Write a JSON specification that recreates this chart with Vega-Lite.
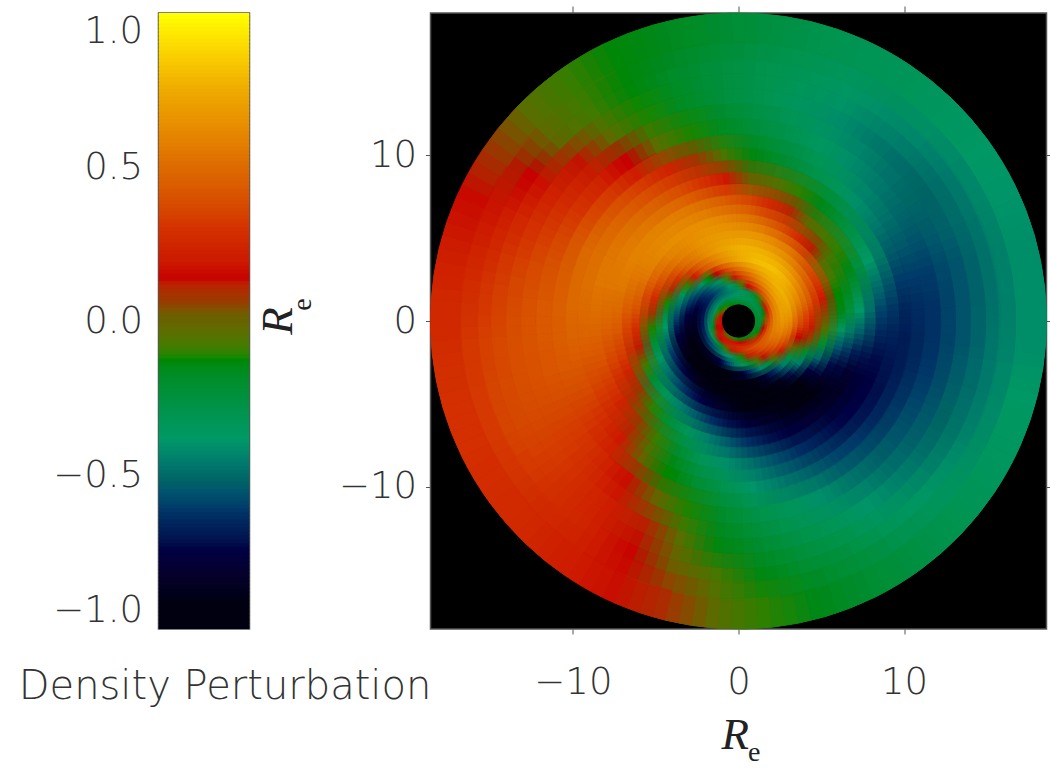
{"$schema":"https://vega.github.io/schema/vega-lite/v6.json","padding":{"left":16.5,"top":4,"right":0,"bottom":0},"background":"white","bounds":"flush","spacing":181,"datasets":{"rings":[{"k":1,"r1":1.03,"s1":1.165,"r2":1.075,"s2":1.255},{"k":2,"r1":1.15,"s1":1.39,"r2":1.27,"s2":1.51},{"k":3,"r1":1.39,"s1":1.63,"r2":1.51,"s2":1.75},{"k":4,"r1":1.61,"s1":1.92,"r2":1.77,"s2":2.08},{"k":5,"r1":1.9,"s1":2.32,"r2":2.1,"s2":2.52},{"k":6,"r1":2.3,"s1":2.78,"r2":2.54,"s2":3.02},{"k":7,"r1":2.77,"s1":3.31,"r2":3.03,"s2":3.57},{"k":8,"r1":3.27,"s1":3.94,"r2":3.61,"s2":4.28},{"k":9,"r1":3.93,"s1":4.65,"r2":4.29,"s2":5.01},{"k":10,"r1":4.6,"s1":5.51,"r2":5.06,"s2":5.97},{"k":11,"r1":5.48,"s1":6.51,"r2":6.0,"s2":7.03},{"k":12,"r1":6.47,"s1":7.68,"r2":7.07,"s2":8.28},{"k":13,"r1":7.63,"s1":9.02,"r2":8.33,"s2":9.72},{"k":14,"r1":8.99,"s1":10.5,"r2":9.75,"s2":11.26},{"k":15,"r1":10.43,"s1":12.24,"r2":11.33,"s2":13.14},{"k":16,"r1":12.24,"s1":14.05,"r2":13.14,"s2":14.95},{"k":17,"r1":14.05,"s1":15.86,"r2":14.95,"s2":16.76},{"k":18,"r1":15.74,"s1":18.6,"r2":16.88,"s2":18.6}],"sectors":[{"a":0,"a1":-3.75,"b1":6.25,"a2":-1.25,"b2":8.75,"a3":1.25,"b3":11.25,"a4":3.75,"b4":13.75},{"a":10,"a1":6.25,"b1":16.25,"a2":8.75,"b2":18.75,"a3":11.25,"b3":21.25,"a4":13.75,"b4":23.75},{"a":20,"a1":16.25,"b1":26.25,"a2":18.75,"b2":28.75,"a3":21.25,"b3":31.25,"a4":23.75,"b4":33.75},{"a":30,"a1":26.25,"b1":36.25,"a2":28.75,"b2":38.75,"a3":31.25,"b3":41.25,"a4":33.75,"b4":43.75},{"a":40,"a1":36.25,"b1":46.25,"a2":38.75,"b2":48.75,"a3":41.25,"b3":51.25,"a4":43.75,"b4":53.75},{"a":50,"a1":46.25,"b1":56.25,"a2":48.75,"b2":58.75,"a3":51.25,"b3":61.25,"a4":53.75,"b4":63.75},{"a":60,"a1":56.25,"b1":66.25,"a2":58.75,"b2":68.75,"a3":61.25,"b3":71.25,"a4":63.75,"b4":73.75},{"a":70,"a1":66.25,"b1":76.25,"a2":68.75,"b2":78.75,"a3":71.25,"b3":81.25,"a4":73.75,"b4":83.75},{"a":80,"a1":76.25,"b1":86.25,"a2":78.75,"b2":88.75,"a3":81.25,"b3":91.25,"a4":83.75,"b4":93.75},{"a":90,"a1":86.25,"b1":96.25,"a2":88.75,"b2":98.75,"a3":91.25,"b3":101.25,"a4":93.75,"b4":103.75},{"a":100,"a1":96.25,"b1":106.25,"a2":98.75,"b2":108.75,"a3":101.25,"b3":111.25,"a4":103.75,"b4":113.75},{"a":110,"a1":106.25,"b1":116.25,"a2":108.75,"b2":118.75,"a3":111.25,"b3":121.25,"a4":113.75,"b4":123.75},{"a":120,"a1":116.25,"b1":126.25,"a2":118.75,"b2":128.75,"a3":121.25,"b3":131.25,"a4":123.75,"b4":133.75},{"a":130,"a1":126.25,"b1":136.25,"a2":128.75,"b2":138.75,"a3":131.25,"b3":141.25,"a4":133.75,"b4":143.75},{"a":140,"a1":136.25,"b1":146.25,"a2":138.75,"b2":148.75,"a3":141.25,"b3":151.25,"a4":143.75,"b4":153.75},{"a":150,"a1":146.25,"b1":156.25,"a2":148.75,"b2":158.75,"a3":151.25,"b3":161.25,"a4":153.75,"b4":163.75},{"a":160,"a1":156.25,"b1":166.25,"a2":158.75,"b2":168.75,"a3":161.25,"b3":171.25,"a4":163.75,"b4":173.75},{"a":170,"a1":166.25,"b1":176.25,"a2":168.75,"b2":178.75,"a3":171.25,"b3":181.25,"a4":173.75,"b4":183.75},{"a":180,"a1":176.25,"b1":186.25,"a2":178.75,"b2":188.75,"a3":181.25,"b3":191.25,"a4":183.75,"b4":193.75},{"a":190,"a1":186.25,"b1":196.25,"a2":188.75,"b2":198.75,"a3":191.25,"b3":201.25,"a4":193.75,"b4":203.75},{"a":200,"a1":196.25,"b1":206.25,"a2":198.75,"b2":208.75,"a3":201.25,"b3":211.25,"a4":203.75,"b4":213.75},{"a":210,"a1":206.25,"b1":216.25,"a2":208.75,"b2":218.75,"a3":211.25,"b3":221.25,"a4":213.75,"b4":223.75},{"a":220,"a1":216.25,"b1":226.25,"a2":218.75,"b2":228.75,"a3":221.25,"b3":231.25,"a4":223.75,"b4":233.75},{"a":230,"a1":226.25,"b1":236.25,"a2":228.75,"b2":238.75,"a3":231.25,"b3":241.25,"a4":233.75,"b4":243.75},{"a":240,"a1":236.25,"b1":246.25,"a2":238.75,"b2":248.75,"a3":241.25,"b3":251.25,"a4":243.75,"b4":253.75},{"a":250,"a1":246.25,"b1":256.25,"a2":248.75,"b2":258.75,"a3":251.25,"b3":261.25,"a4":253.75,"b4":263.75},{"a":260,"a1":256.25,"b1":266.25,"a2":258.75,"b2":268.75,"a3":261.25,"b3":271.25,"a4":263.75,"b4":273.75},{"a":270,"a1":266.25,"b1":276.25,"a2":268.75,"b2":278.75,"a3":271.25,"b3":281.25,"a4":273.75,"b4":283.75},{"a":280,"a1":276.25,"b1":286.25,"a2":278.75,"b2":288.75,"a3":281.25,"b3":291.25,"a4":283.75,"b4":293.75},{"a":290,"a1":286.25,"b1":296.25,"a2":288.75,"b2":298.75,"a3":291.25,"b3":301.25,"a4":293.75,"b4":303.75},{"a":300,"a1":296.25,"b1":306.25,"a2":298.75,"b2":308.75,"a3":301.25,"b3":311.25,"a4":303.75,"b4":313.75},{"a":310,"a1":306.25,"b1":316.25,"a2":308.75,"b2":318.75,"a3":311.25,"b3":321.25,"a4":313.75,"b4":323.75},{"a":320,"a1":316.25,"b1":326.25,"a2":318.75,"b2":328.75,"a3":321.25,"b3":331.25,"a4":323.75,"b4":333.75},{"a":330,"a1":326.25,"b1":336.25,"a2":328.75,"b2":338.75,"a3":331.25,"b3":341.25,"a4":333.75,"b4":343.75},{"a":340,"a1":336.25,"b1":346.25,"a2":338.75,"b2":348.75,"a3":341.25,"b3":351.25,"a4":343.75,"b4":353.75},{"a":350,"a1":346.25,"b1":356.25,"a2":348.75,"b2":358.75,"a3":351.25,"b3":361.25,"a4":353.75,"b4":363.75}],"cells":[
{"a":0,"k":1,"v":-0.21},{"a":10,"k":1,"v":-0.22},{"a":20,"k":1,"v":-0.22},{"a":30,"k":1,"v":-0.22},{"a":40,"k":1,"v":-0.22},{"a":50,"k":1,"v":-0.22},{"a":60,"k":1,"v":-0.21},{"a":70,"k":1,"v":-0.2},{"a":80,"k":1,"v":-0.19},{"a":90,"k":1,"v":-0.18},{"a":100,"k":1,"v":-0.16},{"a":110,"k":1,"v":-0.14},{"a":120,"k":1,"v":-0.11},{"a":130,"k":1,"v":-0.08},{"a":140,"k":1,"v":-0.03},{"a":150,"k":1,"v":0.06},{"a":160,"k":1,"v":0.13},{"a":170,"k":1,"v":0.17},{"a":180,"k":1,"v":0.18},{"a":190,"k":1,"v":0.17},{"a":200,"k":1,"v":0.15},{"a":210,"k":1,"v":0.1},{"a":220,"k":1,"v":0},{"a":230,"k":1,"v":-0.04},{"a":240,"k":1,"v":-0.07},{"a":250,"k":1,"v":-0.09},{"a":260,"k":1,"v":-0.11},{"a":270,"k":1,"v":-0.13},{"a":280,"k":1,"v":-0.14},{"a":290,"k":1,"v":-0.15},{"a":300,"k":1,"v":-0.16},{"a":310,"k":1,"v":-0.18},{"a":320,"k":1,"v":-0.18},{"a":330,"k":1,"v":-0.19},{"a":340,"k":1,"v":-0.2},{"a":350,"k":1,"v":-0.21},
{"a":0,"k":2,"v":-0.24},{"a":10,"k":2,"v":-0.26},{"a":20,"k":2,"v":-0.28},{"a":30,"k":2,"v":-0.29},{"a":40,"k":2,"v":-0.29},{"a":50,"k":2,"v":-0.3},{"a":60,"k":2,"v":-0.3},{"a":70,"k":2,"v":-0.29},{"a":80,"k":2,"v":-0.29},{"a":90,"k":2,"v":-0.27},{"a":100,"k":2,"v":-0.26},{"a":110,"k":2,"v":-0.23},{"a":120,"k":2,"v":-0.2},{"a":130,"k":2,"v":-0.18},{"a":140,"k":2,"v":-0.14},{"a":150,"k":2,"v":-0.09},{"a":160,"k":2,"v":0},{"a":170,"k":2,"v":0.07},{"a":180,"k":2,"v":0.11},{"a":190,"k":2,"v":0.14},{"a":200,"k":2,"v":0.17},{"a":210,"k":2,"v":0.19},{"a":220,"k":2,"v":0.2},{"a":230,"k":2,"v":0.2},{"a":240,"k":2,"v":0.2},{"a":250,"k":2,"v":0.19},{"a":260,"k":2,"v":0.18},{"a":270,"k":2,"v":0.16},{"a":280,"k":2,"v":0.13},{"a":290,"k":2,"v":0.1},{"a":300,"k":2,"v":0.04},{"a":310,"k":2,"v":-0.05},{"a":320,"k":2,"v":-0.11},{"a":330,"k":2,"v":-0.15},{"a":340,"k":2,"v":-0.19},{"a":350,"k":2,"v":-0.21},
{"a":0,"k":3,"v":-0.05},{"a":10,"k":3,"v":-0.13},{"a":20,"k":3,"v":-0.18},{"a":30,"k":3,"v":-0.22},{"a":40,"k":3,"v":-0.26},{"a":50,"k":3,"v":-0.29},{"a":60,"k":3,"v":-0.32},{"a":70,"k":3,"v":-0.34},{"a":80,"k":3,"v":-0.36},{"a":90,"k":3,"v":-0.38},{"a":100,"k":3,"v":-0.39},{"a":110,"k":3,"v":-0.4},{"a":120,"k":3,"v":-0.4},{"a":130,"k":3,"v":-0.4},{"a":140,"k":3,"v":-0.39},{"a":150,"k":3,"v":-0.37},{"a":160,"k":3,"v":-0.33},{"a":170,"k":3,"v":-0.28},{"a":180,"k":3,"v":-0.22},{"a":190,"k":3,"v":-0.14},{"a":200,"k":3,"v":0},{"a":210,"k":3,"v":0.11},{"a":220,"k":3,"v":0.16},{"a":230,"k":3,"v":0.21},{"a":240,"k":3,"v":0.24},{"a":250,"k":3,"v":0.27},{"a":260,"k":3,"v":0.29},{"a":270,"k":3,"v":0.3},{"a":280,"k":3,"v":0.3},{"a":290,"k":3,"v":0.29},{"a":300,"k":3,"v":0.28},{"a":310,"k":3,"v":0.26},{"a":320,"k":3,"v":0.23},{"a":330,"k":3,"v":0.19},{"a":340,"k":3,"v":0.14},{"a":350,"k":3,"v":0.05},
{"a":0,"k":4,"v":0.35},{"a":10,"k":4,"v":0.28},{"a":20,"k":4,"v":0.21},{"a":30,"k":4,"v":0.09},{"a":40,"k":4,"v":-0.08},{"a":50,"k":4,"v":-0.19},{"a":60,"k":4,"v":-0.26},{"a":70,"k":4,"v":-0.32},{"a":80,"k":4,"v":-0.37},{"a":90,"k":4,"v":-0.41},{"a":100,"k":4,"v":-0.44},{"a":110,"k":4,"v":-0.47},{"a":120,"k":4,"v":-0.49},{"a":130,"k":4,"v":-0.5},{"a":140,"k":4,"v":-0.5},{"a":150,"k":4,"v":-0.5},{"a":160,"k":4,"v":-0.49},{"a":170,"k":4,"v":-0.47},{"a":180,"k":4,"v":-0.44},{"a":190,"k":4,"v":-0.41},{"a":200,"k":4,"v":-0.37},{"a":210,"k":4,"v":-0.32},{"a":220,"k":4,"v":-0.26},{"a":230,"k":4,"v":-0.19},{"a":240,"k":4,"v":-0.08},{"a":250,"k":4,"v":0.09},{"a":260,"k":4,"v":0.21},{"a":270,"k":4,"v":0.28},{"a":280,"k":4,"v":0.35},{"a":290,"k":4,"v":0.39},{"a":300,"k":4,"v":0.42},{"a":310,"k":4,"v":0.44},{"a":320,"k":4,"v":0.45},{"a":330,"k":4,"v":0.44},{"a":340,"k":4,"v":0.42},{"a":350,"k":4,"v":0.39},
{"a":0,"k":5,"v":0.6},{"a":10,"k":5,"v":0.59},{"a":20,"k":5,"v":0.56},{"a":30,"k":5,"v":0.52},{"a":40,"k":5,"v":0.46},{"a":50,"k":5,"v":0.38},{"a":60,"k":5,"v":0.29},{"a":70,"k":5,"v":0.16},{"a":80,"k":5,"v":-0.06},{"a":90,"k":5,"v":-0.27},{"a":100,"k":5,"v":-0.39},{"a":110,"k":5,"v":-0.48},{"a":120,"k":5,"v":-0.55},{"a":130,"k":5,"v":-0.61},{"a":140,"k":5,"v":-0.66},{"a":150,"k":5,"v":-0.69},{"a":160,"k":5,"v":-0.7},{"a":170,"k":5,"v":-0.7},{"a":180,"k":5,"v":-0.69},{"a":190,"k":5,"v":-0.67},{"a":200,"k":5,"v":-0.64},{"a":210,"k":5,"v":-0.6},{"a":220,"k":5,"v":-0.56},{"a":230,"k":5,"v":-0.5},{"a":240,"k":5,"v":-0.43},{"a":250,"k":5,"v":-0.36},{"a":260,"k":5,"v":-0.26},{"a":270,"k":5,"v":-0.11},{"a":280,"k":5,"v":0.11},{"a":290,"k":5,"v":0.27},{"a":300,"k":5,"v":0.37},{"a":310,"k":5,"v":0.44},{"a":320,"k":5,"v":0.5},{"a":330,"k":5,"v":0.55},{"a":340,"k":5,"v":0.58},{"a":350,"k":5,"v":0.6},
{"a":0,"k":6,"v":0.7},{"a":10,"k":6,"v":0.72},{"a":20,"k":6,"v":0.72},{"a":30,"k":6,"v":0.71},{"a":40,"k":6,"v":0.67},{"a":50,"k":6,"v":0.62},{"a":60,"k":6,"v":0.55},{"a":70,"k":6,"v":0.45},{"a":80,"k":6,"v":0.35},{"a":90,"k":6,"v":0.19},{"a":100,"k":6,"v":-0.08},{"a":110,"k":6,"v":-0.32},{"a":120,"k":6,"v":-0.44},{"a":130,"k":6,"v":-0.55},{"a":140,"k":6,"v":-0.63},{"a":150,"k":6,"v":-0.71},{"a":160,"k":6,"v":-0.77},{"a":170,"k":6,"v":-0.82},{"a":180,"k":6,"v":-0.85},{"a":190,"k":6,"v":-0.87},{"a":200,"k":6,"v":-0.88},{"a":210,"k":6,"v":-0.87},{"a":220,"k":6,"v":-0.85},{"a":230,"k":6,"v":-0.81},{"a":240,"k":6,"v":-0.74},{"a":250,"k":6,"v":-0.6},{"a":260,"k":6,"v":-0.46},{"a":270,"k":6,"v":-0.35},{"a":280,"k":6,"v":-0.2},{"a":290,"k":6,"v":-0.06},{"a":300,"k":6,"v":0.13},{"a":310,"k":6,"v":0.32},{"a":320,"k":6,"v":0.44},{"a":330,"k":6,"v":0.53},{"a":340,"k":6,"v":0.6},{"a":350,"k":6,"v":0.66},
{"a":0,"k":7,"v":0.67},{"a":10,"k":7,"v":0.73},{"a":20,"k":7,"v":0.76},{"a":30,"k":7,"v":0.78},{"a":40,"k":7,"v":0.78},{"a":50,"k":7,"v":0.76},{"a":60,"k":7,"v":0.72},{"a":70,"k":7,"v":0.65},{"a":80,"k":7,"v":0.57},{"a":90,"k":7,"v":0.47},{"a":100,"k":7,"v":0.34},{"a":110,"k":7,"v":0.14},{"a":120,"k":7,"v":-0.12},{"a":130,"k":7,"v":-0.35},{"a":140,"k":7,"v":-0.49},{"a":150,"k":7,"v":-0.58},{"a":160,"k":7,"v":-0.67},{"a":170,"k":7,"v":-0.76},{"a":180,"k":7,"v":-0.82},{"a":190,"k":7,"v":-0.87},{"a":200,"k":7,"v":-0.92},{"a":210,"k":7,"v":-0.95},{"a":220,"k":7,"v":-0.96},{"a":230,"k":7,"v":-0.97},{"a":240,"k":7,"v":-0.96},{"a":250,"k":7,"v":-0.93},{"a":260,"k":7,"v":-0.86},{"a":270,"k":7,"v":-0.76},{"a":280,"k":7,"v":-0.6},{"a":290,"k":7,"v":-0.42},{"a":300,"k":7,"v":-0.25},{"a":310,"k":7,"v":-0.02},{"a":320,"k":7,"v":0.21},{"a":330,"k":7,"v":0.37},{"a":340,"k":7,"v":0.5},{"a":350,"k":7,"v":0.59},
{"a":0,"k":8,"v":0.46},{"a":10,"k":8,"v":0.57},{"a":20,"k":8,"v":0.66},{"a":30,"k":8,"v":0.74},{"a":40,"k":8,"v":0.79},{"a":50,"k":8,"v":0.82},{"a":60,"k":8,"v":0.82},{"a":70,"k":8,"v":0.81},{"a":80,"k":8,"v":0.77},{"a":90,"k":8,"v":0.71},{"a":100,"k":8,"v":0.63},{"a":110,"k":8,"v":0.52},{"a":120,"k":8,"v":0.41},{"a":130,"k":8,"v":0.22},{"a":140,"k":8,"v":-0.09},{"a":150,"k":8,"v":-0.32},{"a":160,"k":8,"v":-0.47},{"a":170,"k":8,"v":-0.57},{"a":180,"k":8,"v":-0.67},{"a":190,"k":8,"v":-0.76},{"a":200,"k":8,"v":-0.83},{"a":210,"k":8,"v":-0.89},{"a":220,"k":8,"v":-0.94},{"a":230,"k":8,"v":-0.97},{"a":240,"k":8,"v":-0.99},{"a":250,"k":8,"v":-1},{"a":260,"k":8,"v":-1},{"a":270,"k":8,"v":-0.97},{"a":280,"k":8,"v":-0.9},{"a":290,"k":8,"v":-0.8},{"a":300,"k":8,"v":-0.65},{"a":310,"k":8,"v":-0.45},{"a":320,"k":8,"v":-0.25},{"a":330,"k":8,"v":0},{"a":340,"k":8,"v":0.15},{"a":350,"k":8,"v":0.35},
{"a":0,"k":9,"v":0.3},{"a":10,"k":9,"v":0.42},{"a":20,"k":9,"v":0.5},{"a":30,"k":9,"v":0.59},{"a":40,"k":9,"v":0.67},{"a":50,"k":9,"v":0.73},{"a":60,"k":9,"v":0.76},{"a":70,"k":9,"v":0.78},{"a":80,"k":9,"v":0.78},{"a":90,"k":9,"v":0.76},{"a":100,"k":9,"v":0.71},{"a":110,"k":9,"v":0.65},{"a":120,"k":9,"v":0.55},{"a":130,"k":9,"v":0.46},{"a":140,"k":9,"v":0.31},{"a":150,"k":9,"v":0.09},{"a":160,"k":9,"v":-0.11},{"a":170,"k":9,"v":-0.25},{"a":180,"k":9,"v":-0.38},{"a":190,"k":9,"v":-0.49},{"a":200,"k":9,"v":-0.6},{"a":210,"k":9,"v":-0.69},{"a":220,"k":9,"v":-0.77},{"a":230,"k":9,"v":-0.85},{"a":240,"k":9,"v":-0.9},{"a":250,"k":9,"v":-0.96},{"a":260,"k":9,"v":-0.99},{"a":270,"k":9,"v":-1},{"a":280,"k":9,"v":-1},{"a":290,"k":9,"v":-0.96},{"a":300,"k":9,"v":-0.88},{"a":310,"k":9,"v":-0.7},{"a":320,"k":9,"v":-0.45},{"a":330,"k":9,"v":-0.2},{"a":340,"k":9,"v":0.05},{"a":350,"k":9,"v":0.2},
{"a":0,"k":10,"v":0.05},{"a":10,"k":10,"v":0.2},{"a":20,"k":10,"v":0.32},{"a":30,"k":10,"v":0.39},{"a":40,"k":10,"v":0.48},{"a":50,"k":10,"v":0.57},{"a":60,"k":10,"v":0.62},{"a":70,"k":10,"v":0.67},{"a":80,"k":10,"v":0.69},{"a":90,"k":10,"v":0.7},{"a":100,"k":10,"v":0.69},{"a":110,"k":10,"v":0.67},{"a":120,"k":10,"v":0.62},{"a":130,"k":10,"v":0.57},{"a":140,"k":10,"v":0.49},{"a":150,"k":10,"v":0.4},{"a":160,"k":10,"v":0.28},{"a":170,"k":10,"v":0.08},{"a":180,"k":10,"v":-0.11},{"a":190,"k":10,"v":-0.23},{"a":200,"k":10,"v":-0.35},{"a":210,"k":10,"v":-0.47},{"a":220,"k":10,"v":-0.56},{"a":230,"k":10,"v":-0.66},{"a":240,"k":10,"v":-0.74},{"a":250,"k":10,"v":-0.81},{"a":260,"k":10,"v":-0.87},{"a":270,"k":10,"v":-0.92},{"a":280,"k":10,"v":-0.96},{"a":290,"k":10,"v":-0.97},{"a":300,"k":10,"v":-0.98},{"a":310,"k":10,"v":-0.92},{"a":320,"k":10,"v":-0.75},{"a":330,"k":10,"v":-0.5},{"a":340,"k":10,"v":-0.2},{"a":350,"k":10,"v":-0.05},
{"a":0,"k":11,"v":-0.15},{"a":10,"k":11,"v":-0.12},{"a":20,"k":11,"v":-0.08},{"a":30,"k":11,"v":-0.04},{"a":40,"k":11,"v":0.12},{"a":50,"k":11,"v":0.29},{"a":60,"k":11,"v":0.4},{"a":70,"k":11,"v":0.48},{"a":80,"k":11,"v":0.55},{"a":90,"k":11,"v":0.6},{"a":100,"k":11,"v":0.63},{"a":110,"k":11,"v":0.65},{"a":120,"k":11,"v":0.65},{"a":130,"k":11,"v":0.63},{"a":140,"k":11,"v":0.6},{"a":150,"k":11,"v":0.55},{"a":160,"k":11,"v":0.48},{"a":170,"k":11,"v":0.4},{"a":180,"k":11,"v":0.29},{"a":190,"k":11,"v":0.12},{"a":200,"k":11,"v":-0.07},{"a":210,"k":11,"v":-0.22},{"a":220,"k":11,"v":-0.33},{"a":230,"k":11,"v":-0.44},{"a":240,"k":11,"v":-0.53},{"a":250,"k":11,"v":-0.63},{"a":260,"k":11,"v":-0.71},{"a":270,"k":11,"v":-0.78},{"a":280,"k":11,"v":-0.83},{"a":290,"k":11,"v":-0.88},{"a":300,"k":11,"v":-0.91},{"a":310,"k":11,"v":-0.92},{"a":320,"k":11,"v":-0.85},{"a":330,"k":11,"v":-0.72},{"a":340,"k":11,"v":-0.55},{"a":350,"k":11,"v":-0.35},
{"a":0,"k":12,"v":-0.38},{"a":10,"k":12,"v":-0.25},{"a":20,"k":12,"v":-0.15},{"a":30,"k":12,"v":-0.1},{"a":40,"k":12,"v":-0.07},{"a":50,"k":12,"v":-0.03},{"a":60,"k":12,"v":0.11},{"a":70,"k":12,"v":0.27},{"a":80,"k":12,"v":0.37},{"a":90,"k":12,"v":0.44},{"a":100,"k":12,"v":0.51},{"a":110,"k":12,"v":0.56},{"a":120,"k":12,"v":0.59},{"a":130,"k":12,"v":0.6},{"a":140,"k":12,"v":0.6},{"a":150,"k":12,"v":0.58},{"a":160,"k":12,"v":0.55},{"a":170,"k":12,"v":0.5},{"a":180,"k":12,"v":0.43},{"a":190,"k":12,"v":0.35},{"a":200,"k":12,"v":0.24},{"a":210,"k":12,"v":0.07},{"a":220,"k":12,"v":-0.1},{"a":230,"k":12,"v":-0.23},{"a":240,"k":12,"v":-0.34},{"a":250,"k":12,"v":-0.44},{"a":260,"k":12,"v":-0.54},{"a":270,"k":12,"v":-0.63},{"a":280,"k":12,"v":-0.71},{"a":290,"k":12,"v":-0.76},{"a":300,"k":12,"v":-0.79},{"a":310,"k":12,"v":-0.83},{"a":320,"k":12,"v":-0.85},{"a":330,"k":12,"v":-0.8},{"a":340,"k":12,"v":-0.68},{"a":350,"k":12,"v":-0.52},
{"a":0,"k":13,"v":-0.58},{"a":10,"k":13,"v":-0.48},{"a":20,"k":13,"v":-0.38},{"a":30,"k":13,"v":-0.3},{"a":40,"k":13,"v":-0.22},{"a":50,"k":13,"v":-0.15},{"a":60,"k":13,"v":-0.1},{"a":70,"k":13,"v":-0.05},{"a":80,"k":13,"v":0},{"a":90,"k":13,"v":0.2},{"a":100,"k":13,"v":0.31},{"a":110,"k":13,"v":0.4},{"a":120,"k":13,"v":0.46},{"a":130,"k":13,"v":0.51},{"a":140,"k":13,"v":0.54},{"a":150,"k":13,"v":0.55},{"a":160,"k":13,"v":0.55},{"a":170,"k":13,"v":0.52},{"a":180,"k":13,"v":0.48},{"a":190,"k":13,"v":0.42},{"a":200,"k":13,"v":0.34},{"a":210,"k":13,"v":0.24},{"a":220,"k":13,"v":0.07},{"a":230,"k":13,"v":-0.09},{"a":240,"k":13,"v":-0.2},{"a":250,"k":13,"v":-0.32},{"a":260,"k":13,"v":-0.4},{"a":270,"k":13,"v":-0.48},{"a":280,"k":13,"v":-0.56},{"a":290,"k":13,"v":-0.63},{"a":300,"k":13,"v":-0.68},{"a":310,"k":13,"v":-0.73},{"a":320,"k":13,"v":-0.74},{"a":330,"k":13,"v":-0.75},{"a":340,"k":13,"v":-0.72},{"a":350,"k":13,"v":-0.65},
{"a":0,"k":14,"v":-0.65},{"a":10,"k":14,"v":-0.6},{"a":20,"k":14,"v":-0.53},{"a":30,"k":14,"v":-0.46},{"a":40,"k":14,"v":-0.4},{"a":50,"k":14,"v":-0.33},{"a":60,"k":14,"v":-0.27},{"a":70,"k":14,"v":-0.2},{"a":80,"k":14,"v":-0.14},{"a":90,"k":14,"v":-0.07},{"a":100,"k":14,"v":0.08},{"a":110,"k":14,"v":0.24},{"a":120,"k":14,"v":0.33},{"a":130,"k":14,"v":0.4},{"a":140,"k":14,"v":0.45},{"a":150,"k":14,"v":0.49},{"a":160,"k":14,"v":0.5},{"a":170,"k":14,"v":0.5},{"a":180,"k":14,"v":0.48},{"a":190,"k":14,"v":0.44},{"a":200,"k":14,"v":0.38},{"a":210,"k":14,"v":0.3},{"a":220,"k":14,"v":0.2},{"a":230,"k":14,"v":0},{"a":240,"k":14,"v":-0.12},{"a":250,"k":14,"v":-0.21},{"a":260,"k":14,"v":-0.3},{"a":270,"k":14,"v":-0.39},{"a":280,"k":14,"v":-0.46},{"a":290,"k":14,"v":-0.52},{"a":300,"k":14,"v":-0.58},{"a":310,"k":14,"v":-0.61},{"a":320,"k":14,"v":-0.65},{"a":330,"k":14,"v":-0.67},{"a":340,"k":14,"v":-0.68},{"a":350,"k":14,"v":-0.68},
{"a":0,"k":15,"v":-0.62},{"a":10,"k":15,"v":-0.6},{"a":20,"k":15,"v":-0.55},{"a":30,"k":15,"v":-0.5},{"a":40,"k":15,"v":-0.46},{"a":50,"k":15,"v":-0.41},{"a":60,"k":15,"v":-0.36},{"a":70,"k":15,"v":-0.3},{"a":80,"k":15,"v":-0.24},{"a":90,"k":15,"v":-0.17},{"a":100,"k":15,"v":-0.11},{"a":110,"k":15,"v":-0.04},{"a":120,"k":15,"v":0.14},{"a":130,"k":15,"v":0.24},{"a":140,"k":15,"v":0.31},{"a":150,"k":15,"v":0.37},{"a":160,"k":15,"v":0.41},{"a":170,"k":15,"v":0.43},{"a":180,"k":15,"v":0.43},{"a":190,"k":15,"v":0.42},{"a":200,"k":15,"v":0.38},{"a":210,"k":15,"v":0.33},{"a":220,"k":15,"v":0.26},{"a":230,"k":15,"v":0.17},{"a":240,"k":15,"v":0},{"a":250,"k":15,"v":-0.11},{"a":260,"k":15,"v":-0.19},{"a":270,"k":15,"v":-0.27},{"a":280,"k":15,"v":-0.34},{"a":290,"k":15,"v":-0.4},{"a":300,"k":15,"v":-0.47},{"a":310,"k":15,"v":-0.52},{"a":320,"k":15,"v":-0.55},{"a":330,"k":15,"v":-0.58},{"a":340,"k":15,"v":-0.61},{"a":350,"k":15,"v":-0.62},
{"a":0,"k":16,"v":-0.55},{"a":10,"k":16,"v":-0.55},{"a":20,"k":16,"v":-0.52},{"a":30,"k":16,"v":-0.51},{"a":40,"k":16,"v":-0.49},{"a":50,"k":16,"v":-0.45},{"a":60,"k":16,"v":-0.4},{"a":70,"k":16,"v":-0.35},{"a":80,"k":16,"v":-0.29},{"a":90,"k":16,"v":-0.24},{"a":100,"k":16,"v":-0.17},{"a":110,"k":16,"v":-0.11},{"a":120,"k":16,"v":-0.03},{"a":130,"k":16,"v":0.13},{"a":140,"k":16,"v":0.23},{"a":150,"k":16,"v":0.3},{"a":160,"k":16,"v":0.35},{"a":170,"k":16,"v":0.38},{"a":180,"k":16,"v":0.4},{"a":190,"k":16,"v":0.4},{"a":200,"k":16,"v":0.38},{"a":210,"k":16,"v":0.34},{"a":220,"k":16,"v":0.29},{"a":230,"k":16,"v":0.22},{"a":240,"k":16,"v":0.12},{"a":250,"k":16,"v":-0.04},{"a":260,"k":16,"v":-0.14},{"a":270,"k":16,"v":-0.2},{"a":280,"k":16,"v":-0.27},{"a":290,"k":16,"v":-0.32},{"a":300,"k":16,"v":-0.39},{"a":310,"k":16,"v":-0.44},{"a":320,"k":16,"v":-0.49},{"a":330,"k":16,"v":-0.51},{"a":340,"k":16,"v":-0.53},{"a":350,"k":16,"v":-0.55},
{"a":0,"k":17,"v":-0.48},{"a":10,"k":17,"v":-0.48},{"a":20,"k":17,"v":-0.47},{"a":30,"k":17,"v":-0.46},{"a":40,"k":17,"v":-0.43},{"a":50,"k":17,"v":-0.41},{"a":60,"k":17,"v":-0.37},{"a":70,"k":17,"v":-0.33},{"a":80,"k":17,"v":-0.29},{"a":90,"k":17,"v":-0.24},{"a":100,"k":17,"v":-0.19},{"a":110,"k":17,"v":-0.13},{"a":120,"k":17,"v":-0.08},{"a":130,"k":17,"v":-0.02},{"a":140,"k":17,"v":0.14},{"a":150,"k":17,"v":0.22},{"a":160,"k":17,"v":0.28},{"a":170,"k":17,"v":0.32},{"a":180,"k":17,"v":0.35},{"a":190,"k":17,"v":0.36},{"a":200,"k":17,"v":0.36},{"a":210,"k":17,"v":0.33},{"a":220,"k":17,"v":0.29},{"a":230,"k":17,"v":0.23},{"a":240,"k":17,"v":0.15},{"a":250,"k":17,"v":0.02},{"a":260,"k":17,"v":-0.07},{"a":270,"k":17,"v":-0.14},{"a":280,"k":17,"v":-0.21},{"a":290,"k":17,"v":-0.26},{"a":300,"k":17,"v":-0.32},{"a":310,"k":17,"v":-0.37},{"a":320,"k":17,"v":-0.4},{"a":330,"k":17,"v":-0.44},{"a":340,"k":17,"v":-0.46},{"a":350,"k":17,"v":-0.47},
{"a":0,"k":18,"v":-0.4},{"a":10,"k":18,"v":-0.4},{"a":20,"k":18,"v":-0.39},{"a":30,"k":18,"v":-0.38},{"a":40,"k":18,"v":-0.36},{"a":50,"k":18,"v":-0.34},{"a":60,"k":18,"v":-0.32},{"a":70,"k":18,"v":-0.29},{"a":80,"k":18,"v":-0.25},{"a":90,"k":18,"v":-0.2},{"a":100,"k":18,"v":-0.16},{"a":110,"k":18,"v":-0.13},{"a":120,"k":18,"v":-0.09},{"a":130,"k":18,"v":-0.04},{"a":140,"k":18,"v":0.07},{"a":150,"k":18,"v":0.16},{"a":160,"k":18,"v":0.21},{"a":170,"k":18,"v":0.26},{"a":180,"k":18,"v":0.29},{"a":190,"k":18,"v":0.3},{"a":200,"k":18,"v":0.3},{"a":210,"k":18,"v":0.29},{"a":220,"k":18,"v":0.26},{"a":230,"k":18,"v":0.22},{"a":240,"k":18,"v":0.17},{"a":250,"k":18,"v":0.1},{"a":260,"k":18,"v":-0.03},{"a":270,"k":18,"v":-0.1},{"a":280,"k":18,"v":-0.15},{"a":290,"k":18,"v":-0.2},{"a":300,"k":18,"v":-0.25},{"a":310,"k":18,"v":-0.3},{"a":320,"k":18,"v":-0.34},{"a":330,"k":18,"v":-0.36},{"a":340,"k":18,"v":-0.38},{"a":350,"k":18,"v":-0.4}
],"bar":[{"l":-1},{"l":-0.9875},{"l":-0.975},{"l":-0.9625},{"l":-0.95},{"l":-0.9375},{"l":-0.925},{"l":-0.9125},{"l":-0.9},{"l":-0.8875},{"l":-0.875},{"l":-0.8625},{"l":-0.85},{"l":-0.8375},{"l":-0.825},{"l":-0.8125},{"l":-0.8},{"l":-0.7875},{"l":-0.775},{"l":-0.7625},{"l":-0.75},{"l":-0.7375},{"l":-0.725},{"l":-0.7125},{"l":-0.7},{"l":-0.6875},{"l":-0.675},{"l":-0.6625},{"l":-0.65},{"l":-0.6375},{"l":-0.625},{"l":-0.6125},{"l":-0.6},{"l":-0.5875},{"l":-0.575},{"l":-0.5625},{"l":-0.55},{"l":-0.5375},{"l":-0.525},{"l":-0.5125},{"l":-0.5},{"l":-0.4875},{"l":-0.475},{"l":-0.4625},{"l":-0.45},{"l":-0.4375},{"l":-0.425},{"l":-0.4125},{"l":-0.4},{"l":-0.3875},{"l":-0.375},{"l":-0.3625},{"l":-0.35},{"l":-0.3375},{"l":-0.325},{"l":-0.3125},{"l":-0.3},{"l":-0.2875},{"l":-0.275},{"l":-0.2625},{"l":-0.25},{"l":-0.2375},{"l":-0.225},{"l":-0.2125},{"l":-0.2},{"l":-0.1875},{"l":-0.175},{"l":-0.1625},{"l":-0.15},{"l":-0.1375},{"l":-0.125},{"l":-0.1125},{"l":-0.1},{"l":-0.0875},{"l":-0.075},{"l":-0.0625},{"l":-0.05},{"l":-0.0375},{"l":-0.025},{"l":-0.0125},{"l":0},{"l":0.0125},{"l":0.025},{"l":0.0375},{"l":0.05},{"l":0.0625},{"l":0.075},{"l":0.0875},{"l":0.1},{"l":0.1125},{"l":0.125},{"l":0.1375},{"l":0.15},{"l":0.1625},{"l":0.175},{"l":0.1875},{"l":0.2},{"l":0.2125},{"l":0.225},{"l":0.2375},{"l":0.25},{"l":0.2625},{"l":0.275},{"l":0.2875},{"l":0.3},{"l":0.3125},{"l":0.325},{"l":0.3375},{"l":0.35},{"l":0.3625},{"l":0.375},{"l":0.3875},{"l":0.4},{"l":0.4125},{"l":0.425},{"l":0.4375},{"l":0.45},{"l":0.4625},{"l":0.475},{"l":0.4875},{"l":0.5},{"l":0.5125},{"l":0.525},{"l":0.5375},{"l":0.55},{"l":0.5625},{"l":0.575},{"l":0.5875},{"l":0.6},{"l":0.6125},{"l":0.625},{"l":0.6375},{"l":0.65},{"l":0.6625},{"l":0.675},{"l":0.6875},{"l":0.7},{"l":0.7125},{"l":0.725},{"l":0.7375},{"l":0.75},{"l":0.7625},{"l":0.775},{"l":0.7875},{"l":0.8},{"l":0.8125},{"l":0.825},{"l":0.8375},{"l":0.85},{"l":0.8625},{"l":0.875},{"l":0.8875},{"l":0.9},{"l":0.9125},{"l":0.925},{"l":0.9375},{"l":0.95},{"l":0.9625},{"l":0.975},{"l":0.9875},{"l":1}]},"hconcat":[{"width":91,"height":616,"view":{"stroke":"#555555","strokeWidth":1.5},"layer":[{"data":{"name":"bar"},"mark":{"type":"rect","height":5,"clip":true},"encoding":{"y":{"field":"l","type":"quantitative","scale":{"domain":[-1,1],"nice":false},"axis":{"values":[-1,-0.5,0,0.5,1],"format":".1f","title":null,"grid":false,"domain":false,"tickSize":4,"tickColor":"#00000000","labelFlush":true,"labelPadding":12,"labelFont":"DejaVu Sans","labelFontWeight":200,"labelFontSize":37,"labelColor":"#333333"}},"fill":{"field":"l","type":"quantitative","legend":null,"scale":{"type":"linear","domain":[-1,-0.91,-0.74,-0.62,-0.51,-0.38,-0.12,0.015,0.065,0.14,0.3,0.5,0.75,1],"range":["#000000","#000011","#000044","#003366","#006666","#009966","#008800","#6a6000","#993a00","#c80000","#d43000","#dd6a00","#eeaa00","#ffff00"]}}}},{"data":{"values":[{"p":0}]},"mark":{"type":"point","opacity":0},"encoding":{"x":{"field":"p","type":"quantitative","axis":{"title":"Density Perturbation","labels":false,"ticks":false,"domain":false,"grid":false,"titleX":66,"titleY":57,"titleAnchor":"middle","titleAlign":"center","titleBaseline":"middle","titleFont":"DejaVu Sans","titleFontWeight":200,"titleFontSize":40,"titleColor":"#333333"}}}}]},{"width":616,"height":616,"view":{"fill":"#000000","stroke":"#555555","strokeWidth":1.5},"resolve":{"axis":{"x":"independent","y":"independent"}},"data":{"name":"cells"},"transform":[{"lookup":"k","from":{"data":{"name":"rings"},"key":"k","fields":["r1","s1","r2","s2"]}},{"lookup":"a","from":{"data":{"name":"sectors"},"key":"a","fields":["a1","b1","a2","b2","a3","b3","a4","b4"]}}],"layer":[{"mark":{"type":"arc","strokeWidth":1},"encoding":{"theta":{"field":"a1","type":"quantitative","scale":{"domain":[0,360],"range":[1.5708,-4.7124]}},"theta2":{"field":"b1"},"radius":{"field":"r1","type":"quantitative","scale":{"type":"linear","domain":[0,18.6],"range":[0,308]}},"radius2":{"field":"s1"},"fill":{"field":"v","type":"quantitative","legend":null,"scale":{"type":"linear","domain":[-1,-0.91,-0.74,-0.62,-0.51,-0.38,-0.12,0.015,0.065,0.14,0.3,0.5,0.75,1],"range":["#000000","#000011","#000044","#003366","#006666","#009966","#008800","#6a6000","#993a00","#c80000","#d43000","#dd6a00","#eeaa00","#ffff00"]}},"stroke":{"field":"v","type":"quantitative","legend":null,"scale":{"type":"linear","domain":[-1,-0.91,-0.74,-0.62,-0.51,-0.38,-0.12,0.015,0.065,0.14,0.3,0.5,0.75,1],"range":["#000000","#000011","#000044","#003366","#006666","#009966","#008800","#6a6000","#993a00","#c80000","#d43000","#dd6a00","#eeaa00","#ffff00"]}}}},{"mark":{"type":"arc","opacity":0.5},"encoding":{"theta":{"field":"a3","type":"quantitative"},"theta2":{"field":"b3"},"radius":{"field":"r2","type":"quantitative"},"radius2":{"field":"s2"},"fill":{"field":"v","type":"quantitative","legend":null}}},{"mark":{"type":"arc","opacity":0.333},"encoding":{"theta":{"field":"a2","type":"quantitative"},"theta2":{"field":"b2"},"radius":{"field":"r1","type":"quantitative"},"radius2":{"field":"s1"},"fill":{"field":"v","type":"quantitative","legend":null}}},{"mark":{"type":"arc","opacity":0.25},"encoding":{"theta":{"field":"a4","type":"quantitative"},"theta2":{"field":"b4"},"radius":{"field":"r2","type":"quantitative"},"radius2":{"field":"s2"},"fill":{"field":"v","type":"quantitative","legend":null}}},{"mark":{"type":"arc","opacity":0.2},"encoding":{"theta":{"field":"a1","type":"quantitative"},"theta2":{"field":"b1"},"radius":{"field":"r2","type":"quantitative"},"radius2":{"field":"s2"},"fill":{"field":"v","type":"quantitative","legend":null}}},{"mark":{"type":"arc","opacity":0.167},"encoding":{"theta":{"field":"a3","type":"quantitative"},"theta2":{"field":"b3"},"radius":{"field":"r1","type":"quantitative"},"radius2":{"field":"s1"},"fill":{"field":"v","type":"quantitative","legend":null}}},{"mark":{"type":"arc","opacity":0.143},"encoding":{"theta":{"field":"a2","type":"quantitative"},"theta2":{"field":"b2"},"radius":{"field":"r2","type":"quantitative"},"radius2":{"field":"s2"},"fill":{"field":"v","type":"quantitative","legend":null}}},{"mark":{"type":"arc","opacity":0.125},"encoding":{"theta":{"field":"a4","type":"quantitative"},"theta2":{"field":"b4"},"radius":{"field":"r1","type":"quantitative"},"radius2":{"field":"s1"},"fill":{"field":"v","type":"quantitative","legend":null}}},{"data":{"values":[{"x":0,"y":0}]},"mark":{"type":"point","opacity":0},"encoding":{"x":{"field":"x","type":"quantitative","scale":{"domain":[-18.6,18.6],"nice":false},"axis":{"values":[-10,0,10],"title":null,"grid":false,"domain":false,"tickSize":5,"tickColor":"#555555","labelPadding":30,"labelFont":"DejaVu Sans","labelFontWeight":200,"labelFontSize":37,"labelColor":"#333333"}},"y":{"field":"y","type":"quantitative","scale":{"domain":[-18.6,18.6],"nice":false},"axis":{"values":[-10,0,10],"title":null,"grid":false,"domain":false,"tickSize":5,"tickColor":"#555555","labelPadding":9,"labelFont":"DejaVu Sans","labelFontWeight":200,"labelFontSize":37,"labelColor":"#333333"}}}},{"data":{"values":[{"x":0,"y":0}]},"mark":{"type":"point","opacity":0},"encoding":{"x":{"field":"x","type":"quantitative","axis":{"orient":"top","values":[-10,0,10],"title":null,"labels":false,"grid":false,"domain":false,"tickSize":7,"tickColor":"#555555"}},"y":{"field":"y","type":"quantitative","axis":{"orient":"right","values":[-10,0,10],"title":null,"labels":false,"grid":false,"domain":false,"tickSize":7,"tickColor":"#555555"}}}},{"data":{"values":[{"x":-0.2,"y":-25,"t":"R"}]},"mark":{"type":"text","font":"Liberation Serif","fontStyle":"italic","fontSize":45,"color":"#222222","clip":false},"encoding":{"x":{"field":"x","type":"quantitative","axis":null},"y":{"field":"y","type":"quantitative","axis":null},"text":{"field":"t"}}},{"data":{"values":[{"x":-27.8,"y":0,"t":"R"}]},"mark":{"type":"text","font":"Liberation Serif","fontStyle":"italic","fontSize":45,"angle":270,"color":"#222222","clip":false},"encoding":{"x":{"field":"x","type":"quantitative","axis":null},"y":{"field":"y","type":"quantitative","axis":null},"text":{"field":"t"}}},{"data":{"values":[{"x":0.95,"y":-26.1,"t":"e"}]},"mark":{"type":"text","font":"Liberation Serif","fontSize":28,"color":"#222222","clip":false},"encoding":{"x":{"field":"x","type":"quantitative","axis":null},"y":{"field":"y","type":"quantitative","axis":null},"text":{"field":"t"}}},{"data":{"values":[{"x":-26.3,"y":1,"t":"e"}]},"mark":{"type":"text","font":"Liberation Serif","fontSize":28,"angle":270,"color":"#222222","clip":false},"encoding":{"x":{"field":"x","type":"quantitative","axis":null},"y":{"field":"y","type":"quantitative","axis":null},"text":{"field":"t"}}}]}]}
